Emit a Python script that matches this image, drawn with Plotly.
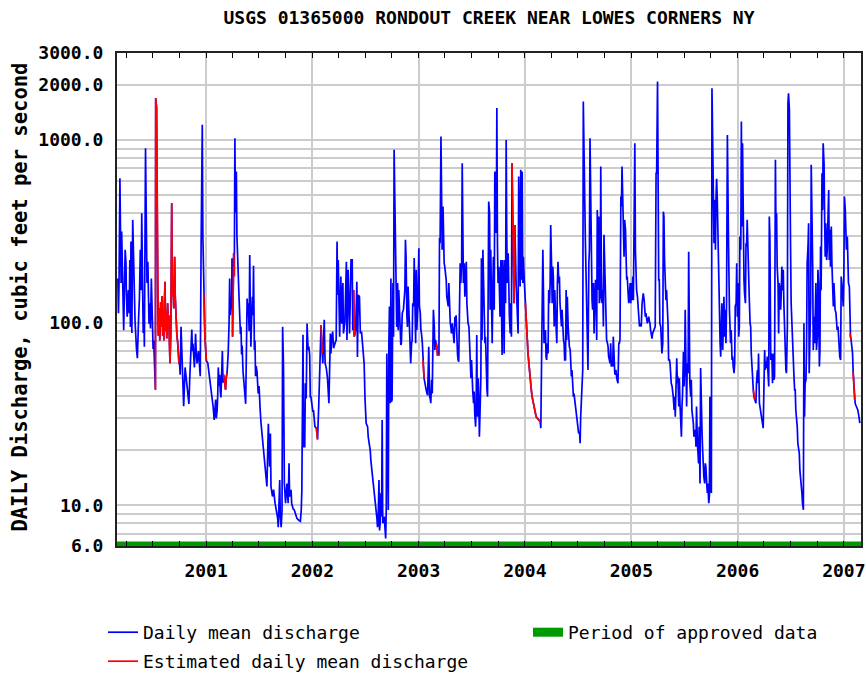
import pandas as pd
import plotly.graph_objects as go

# Day offsets are counted from this date; values are daily mean discharge (cfs)
START = pd.Timestamp("2000-01-01")

flow_2000 = [
    (63, 175), (65, 113), (67, 165), (70, 619), (72, 316), (74, 165), (76, 316), (80, 128), (83, 91), (88, 251),
    (91, 212), (92, 151), (95, 108), (99, 151), (102, 113), (104, 221), (106, 95), (108, 279), (111, 88), (114, 366),
    (118, 158), (120, 123), (122, 102), (127, 72), (130, 64), (134, 104), (137, 136), (140, 251), (143, 151), (145, 398),
    (147, 165), (150, 88), (152, 128), (154, 74), (158, 904), (161, 316), (163, 165), (166, 216), (168, 145), (170, 99),
    (172, 128), (175, 93), (178, 175), (182, 102), (184, 72), (186, 80), (189, 49), (192, 43), (193, 1700), (196, 1500),
    (200, 139), (202, 85), (205, 120), (207, 80), (210, 130), (212, 95), (215, 140), (217, 85), (219, 110), (221, 80),
    (223, 130), (225, 168), (227, 90), (229, 115), (231, 82), (234, 128), (236, 95), (238, 110), (240, 80), (242, 60),
    (245, 90), (248, 451), (250, 140), (253, 148), (255, 120), (258, 230), (260, 140), (262, 108), (264, 95), (266, 84),
    (268, 80), (271, 65), (273, 60), (275, 60), (277, 52), (280, 95), (285, 49), (287, 35), (289, 35), (294, 57),
    (298, 50), (303, 43), (307, 36), (310, 50), (312, 57), (317, 92), (319, 70), (321, 77), (326, 57), (330, 87),
    (332, 70), (335, 60), (340, 70), (344, 54), (346, 51), (349, 267), (353, 1213), (355, 300), (358, 145), (360, 100),
    (362, 84), (365, 70),
]

flow_2001 = [
    (367, 62), (372, 60), (376, 54), (381, 47), (385, 41), (390, 35), (394, 29.4), (396, 33), (399, 38), (401, 30),
    (404, 33), (406, 40), (408, 57), (411, 45), (413, 52), (415, 42), (417, 39), (420, 55), (422, 70), (424, 47),
    (426, 52), (429, 49), (431, 47), (433, 43), (435, 50), (438, 53), (440, 60), (442, 68), (445, 100), (447, 175),
    (449, 110), (452, 139), (454, 120), (455, 226), (457, 84), (458, 150), (461, 240), (463, 180), (465, 1025), (467, 400),
    (470, 673), (472, 300), (475, 199), (477, 170), (479, 142), (484, 87), (486, 95), (488, 67), (490, 75), (493, 54),
    (497, 43), (502, 36), (504, 60), (507, 136), (509, 110), (511, 128), (514, 90), (516, 235), (518, 120), (520, 74),
    (522, 100), (525, 139), (527, 110), (529, 205), (532, 71), (534, 80), (536, 51), (538, 58), (541, 54), (543, 45),
    (545, 41), (548, 45), (550, 36), (552, 33), (555, 28), (559, 24), (564, 20), (568, 17), (572, 15), (575, 12.7),
    (580, 28), (582, 21), (584, 16.3), (587, 24.8), (589, 12.7), (594, 11.2), (598, 12.2), (603, 10.3), (607, 9.45), (612, 8.5),
    (614, 7.6), (619, 13.8), (621, 8.7), (624, 7.6), (627, 9.45), (629, 95), (632, 57.6), (635, 13.2), (639, 10.3), (644, 13.2),
    (648, 10.3), (651, 17), (653, 11.2), (658, 12.2), (660, 10.3), (665, 9.6), (669, 9.45), (674, 8.9), (678, 8.5), (685, 8.3),
    (690, 8.2), (693, 9.45), (695, 12), (699, 86), (701, 21), (705, 21), (707, 46.7), (710, 38.5), (713, 99), (715, 80.5),
    (717, 71), (719, 74), (722, 66.7), (724, 39.4), (726, 39.4), (729, 36.3),
]

flow_2002 = [
    (731, 33.3), (733, 32.5), (735, 33.3), (738, 30.6), (740, 27), (745, 26.5), (747, 23), (749, 23), (753, 35), (756, 50),
    (761, 97), (763, 79), (765, 68), (767, 60), (772, 104), (775, 60), (779, 56.5), (783, 50), (788, 36.3), (790, 60),
    (793, 87.5), (795, 68), (797, 80.5), (801, 89.5), (804, 72.5), (809, 77.3), (813, 80.5), (816, 279), (818, 142), (820, 221),
    (825, 84), (829, 179), (832, 99), (836, 165), (838, 87.5), (843, 101), (848, 216), (850, 80.5), (854, 195), (859, 87.5),
    (864, 221), (868, 221), (870, 91), (873, 151), (875, 84), (880, 91), (884, 168), (886, 65), (889, 142), (893, 139),
    (896, 87.5), (900, 89.5), (905, 74), (909, 60), (912, 38.5), (916, 28.2), (921, 27), (923, 23.8), (928, 21), (930, 20.1),
    (932, 17.7), (937, 15), (941, 13.2), (944, 11.2), (948, 10.3), (950, 9.9), (953, 8.5), (955, 7.6), (957, 8), (960, 13.8),
    (962, 7.3), (964, 8), (967, 11.7), (969, 8.7), (971, 29.4), (973, 8), (978, 8.7), (980, 7.3), (983, 6.6), (985, 9.45),
    (987, 68), (989, 26.5), (992, 9.45), (994, 77.3), (996, 123), (999, 36.3), (1001, 175), (1003, 37), (1005, 38), (1008, 165),
    (1010, 84), (1012, 885), (1015, 351), (1017, 351), (1019, 172), (1021, 95), (1024, 165), (1026, 91), (1028, 151), (1031, 99),
    (1033, 89.5), (1035, 75.6), (1037, 77.3), (1040, 113), (1044, 118), (1049, 151), (1051, 285), (1053, 230), (1056, 108), (1058, 95),
    (1060, 158), (1063, 118), (1065, 108), (1067, 80.5), (1069, 60), (1072, 77.3), (1074, 80.5), (1076, 128), (1079, 123), (1081, 226),
    (1083, 145), (1086, 77.3), (1088, 195), (1090, 91.4), (1093, 118), (1095, 212),
]

flow_2003 = [
    (1097, 256), (1099, 123), (1102, 113), (1104, 91.4), (1106, 87.5), (1109, 77.3), (1111, 62.6), (1113, 57.6), (1115, 49.7), (1118, 46.7),
    (1120, 43.9), (1122, 42.9), (1125, 41), (1127, 40.2), (1129, 53), (1131, 74), (1134, 39.4), (1136, 38.5), (1138, 36.3), (1141, 48.7),
    (1143, 41), (1145, 72.5), (1147, 118), (1150, 95.4), (1152, 71), (1154, 80.5), (1157, 77.3), (1159, 74), (1161, 66.7), (1166, 66.7),
    (1168, 291), (1170, 273), (1173, 1046), (1175, 659), (1177, 251), (1180, 433), (1182, 251), (1184, 212), (1186, 203), (1189, 187),
    (1191, 172), (1193, 139), (1196, 128), (1198, 123), (1200, 165), (1202, 113), (1205, 99.4), (1207, 95.4), (1209, 87.5), (1212, 99.4),
    (1214, 91.4), (1216, 80.5), (1218, 77.3), (1221, 108), (1223, 95.4), (1225, 110), (1228, 71), (1230, 66.7), (1232, 62.6), (1234, 61.3),
    (1237, 131), (1239, 212), (1241, 165), (1244, 208), (1246, 748), (1248, 382), (1250, 165), (1253, 212), (1255, 139), (1257, 165),
    (1260, 216), (1262, 128), (1264, 108), (1266, 99.4), (1269, 95.4), (1271, 80.5), (1273, 64), (1276, 49.7), (1278, 62.6), (1280, 43.9),
    (1282, 42.9), (1285, 36.3), (1287, 42), (1289, 31.9), (1292, 27), (1294, 36.3), (1296, 85.8), (1298, 30.6), (1301, 49.7), (1303, 37.8),
    (1305, 23.8), (1308, 36.3), (1310, 49.7), (1312, 226), (1314, 80.5), (1317, 251), (1319, 158), (1321, 95.4), (1324, 77.3), (1326, 84),
    (1328, 49.7), (1331, 42.9), (1333, 39.4), (1335, 118), (1337, 461), (1340, 398), (1342, 118), (1344, 251), (1347, 128), (1349, 77.3),
    (1351, 145), (1353, 230), (1356, 118), (1358, 673), (1360, 415), (1363, 310), (1365, 1500), (1367, 273), (1369, 165), (1372, 203),
    (1374, 151), (1376, 108), (1379, 221), (1381, 87.5), (1383, 66.7), (1385, 221), (1388, 165), (1390, 68), (1392, 221), (1395, 128),
    (1397, 1003), (1399, 297), (1401, 165), (1404, 240), (1406, 133), (1408, 108), (1411, 87.5), (1413, 128), (1415, 84), (1417, 748),
    (1420, 359), (1422, 230), (1424, 128), (1427, 343), (1429, 172), (1431, 165), (1433, 139), (1436, 108), (1438, 87.5), (1440, 632),
    (1443, 262), (1445, 158), (1447, 688), (1449, 172), (1452, 673), (1454, 165), (1456, 230), (1459, 172),
]

flow_2004 = [
    (1461, 145), (1463, 128), (1466, 99.4), (1468, 87.5), (1470, 77.3), (1472, 68), (1475, 60), (1477, 54), (1479, 49.2), (1482, 45),
    (1484, 42), (1486, 39.4), (1488, 37.8), (1491, 36.3), (1493, 34), (1495, 32.6), (1497, 31.3), (1500, 30.6), (1504, 30), (1509, 29.4),
    (1514, 28.8), (1516, 26.5), (1518, 62.6), (1520, 62.6), (1523, 251), (1525, 151), (1527, 77.3), (1530, 84), (1532, 91.4), (1534, 65.3),
    (1536, 62.6), (1539, 77.3), (1541, 68), (1543, 151), (1546, 128), (1548, 165), (1550, 343), (1553, 203), (1555, 128), (1557, 203),
    (1559, 179), (1562, 95.4), (1564, 151), (1566, 118), (1568, 84), (1571, 77.3), (1573, 165), (1575, 216), (1578, 165), (1580, 179),
    (1582, 128), (1584, 118), (1587, 95.4), (1589, 118), (1591, 91.4), (1594, 80.5), (1596, 77.3), (1598, 62.6), (1601, 62.6), (1603, 151),
    (1605, 80.5), (1607, 139), (1610, 95.4), (1612, 77.3), (1614, 74), (1617, 71), (1619, 55.2), (1621, 50.8), (1623, 55.2), (1626, 46.7),
    (1628, 39.4), (1630, 41), (1633, 37.8), (1635, 34.8), (1637, 33.3), (1639, 30.6), (1642, 29.4), (1644, 27), (1646, 24.8), (1649, 25.4),
    (1651, 21.9), (1653, 30.6), (1655, 34.8), (1658, 46.7), (1660, 55.2), (1662, 1628), (1665, 471), (1667, 461), (1669, 285), (1672, 172),
    (1674, 95.4), (1676, 95.4), (1678, 55.2), (1681, 212), (1683, 251), (1685, 1025), (1688, 273), (1690, 212), (1692, 133), (1694, 118),
    (1697, 165), (1699, 87.5), (1701, 133), (1704, 172), (1706, 145), (1708, 80.5), (1710, 415), (1713, 151), (1715, 382), (1717, 128),
    (1720, 139), (1722, 718), (1724, 195), (1726, 128), (1729, 151), (1731, 95.4), (1733, 303), (1736, 179), (1738, 187), (1740, 118),
    (1742, 80.5), (1745, 77.3), (1747, 74), (1749, 65.3), (1752, 61.3), (1754, 60), (1756, 77.3), (1758, 57.6), (1761, 61.3), (1763, 57.6),
    (1765, 84), (1768, 55.2), (1770, 53), (1772, 52), (1774, 55.2), (1777, 49.7), (1779, 48.7), (1781, 46.7), (1784, 77.3), (1786, 77.3),
    (1788, 80.5), (1791, 491), (1793, 433), (1795, 718), (1797, 433), (1800, 297), (1802, 230), (1804, 366), (1807, 323), (1809, 230),
    (1811, 172), (1813, 179), (1816, 145), (1818, 128), (1820, 139), (1823, 165), (1825, 128),
]

flow_2005 = [
    (1827, 165), (1829, 133), (1832, 179), (1834, 133), (1836, 262), (1839, 962), (1841, 251), (1843, 151), (1845, 151), (1848, 139),
    (1850, 118), (1852, 108), (1855, 95.4), (1857, 99.4), (1859, 95.4), (1861, 95.4), (1864, 128), (1866, 139), (1868, 145), (1871, 133),
    (1873, 118), (1875, 108), (1877, 113), (1880, 99.4), (1882, 99.4), (1884, 104), (1887, 108), (1889, 102), (1891, 99.4), (1893, 91.4),
    (1896, 87.5), (1898, 82), (1900, 87.5), (1903, 89.5), (1905, 91.4), (1907, 93), (1909, 95.4), (1912, 659), (1914, 659), (1917, 2094),
    (1919, 273), (1921, 172), (1923, 172), (1925, 99.4), (1928, 95.4), (1930, 84), (1932, 68), (1935, 77.3), (1937, 406), (1939, 382),
    (1941, 221), (1944, 151), (1946, 133), (1948, 151), (1951, 128), (1953, 99.4), (1955, 62.6), (1958, 62.6), (1960, 60), (1962, 48.7),
    (1964, 46.7), (1967, 44.8), (1969, 42.9), (1971, 39.4), (1974, 33.3), (1976, 39.4), (1978, 30.6), (1980, 37.8), (1983, 64), (1985, 46.7),
    (1987, 50.8), (1990, 34.8), (1992, 49.7), (1994, 36.3), (1996, 30.6), (1999, 23.8), (2001, 34.8), (2003, 41), (2006, 69.5), (2008, 44.8),
    (2010, 55.2), (2012, 118), (2015, 55.2), (2017, 34.8), (2019, 60), (2022, 53), (2024, 245), (2026, 77.3), (2028, 46.7), (2031, 39.4),
    (2033, 48.7), (2035, 33.3), (2038, 30.6), (2040, 28.2), (2042, 23.8), (2044, 24.8), (2047, 25.9), (2049, 21), (2051, 34.8), (2054, 21.9),
    (2056, 19.3), (2058, 17), (2060, 27), (2063, 13.2), (2065, 56.5), (2067, 31.9), (2070, 24.8), (2072, 20.1), (2074, 16.3), (2076, 14.4),
    (2079, 13.2), (2081, 17), (2083, 16.3), (2086, 13.2), (2088, 11.7), (2090, 13.2), (2093, 10.3), (2095, 11.2), (2097, 39.4), (2099, 12.2),
    (2102, 11.7), (2104, 1925), (2106, 1160), (2109, 491), (2111, 273), (2113, 471), (2116, 251), (2118, 491), (2120, 615), (2122, 491),
    (2125, 251), (2127, 165), (2129, 113), (2132, 77.3), (2134, 65.3), (2136, 108), (2138, 128), (2141, 71), (2143, 87.5), (2145, 139),
    (2148, 84), (2150, 118), (2152, 77.3), (2154, 123), (2157, 1067), (2159, 262), (2161, 262), (2164, 118), (2166, 99.4), (2168, 77.3),
    (2170, 91.4), (2173, 62.6), (2175, 65.3), (2177, 57.6), (2180, 53), (2182, 60), (2184, 123), (2187, 128), (2189, 212), (2191, 108),
]

flow_2006 = [
    (2193, 165), (2196, 84), (2198, 95.4), (2200, 297), (2203, 251), (2205, 1264), (2207, 337), (2209, 962), (2212, 179), (2214, 172),
    (2216, 145), (2219, 128), (2221, 273), (2223, 262), (2225, 366), (2228, 195), (2230, 151), (2232, 139), (2235, 99.4), (2237, 95.4),
    (2239, 68), (2241, 55.2), (2244, 46.7), (2246, 42.9), (2248, 39.4), (2251, 37.8), (2253, 36.3), (2255, 36.3), (2257, 46.7), (2260, 55.2),
    (2262, 46.7), (2264, 68), (2267, 36.3), (2269, 34.8), (2271, 33.3), (2273, 31.9), (2276, 29.4), (2278, 28.2), (2280, 26.5), (2283, 48.7),
    (2285, 71), (2287, 55.2), (2289, 61.3), (2292, 56.5), (2294, 65.3), (2296, 55.2), (2299, 44.8), (2301, 382), (2303, 297), (2306, 62.6),
    (2308, 68), (2310, 65.3), (2312, 46.7), (2315, 68), (2317, 48.7), (2319, 50.8), (2322, 780), (2324, 310), (2326, 398), (2328, 203),
    (2331, 165), (2333, 87.5), (2335, 165), (2338, 151), (2340, 118), (2342, 145), (2344, 203), (2347, 151), (2349, 195), (2351, 128),
    (2354, 77.3), (2356, 80.5), (2358, 55.2), (2360, 53), (2363, 95.4), (2365, 1594), (2367, 1806), (2370, 1465), (2372, 262), (2374, 262),
    (2376, 128), (2379, 87.5), (2381, 80.5), (2383, 60), (2386, 49.7), (2388, 42.9), (2390, 42.9), (2392, 33.3), (2395, 30.6), (2397, 27),
    (2399, 21.9), (2402, 20.1), (2404, 19.3), (2406, 15.6), (2408, 14.4), (2411, 13.8), (2413, 11.7), (2415, 10.3), (2418, 9.45), (2420, 99.4),
    (2422, 30.6), (2424, 46.7), (2427, 48.7), (2429, 74), (2431, 212), (2434, 262), (2436, 351), (2438, 53), (2440, 77.3), (2443, 128),
    (2445, 733), (2447, 522), (2450, 203), (2452, 71), (2454, 108), (2457, 77.3), (2459, 118), (2461, 165), (2463, 71), (2466, 84),
    (2468, 195), (2470, 165), (2473, 57.6), (2475, 71), (2477, 262), (2479, 151), (2482, 659), (2484, 415), (2486, 962), (2489, 748),
    (2491, 382), (2493, 230), (2495, 351), (2498, 221), (2500, 251), (2502, 451), (2505, 534), (2507, 221), (2509, 323), (2511, 203),
    (2514, 337), (2516, 212), (2518, 165), (2521, 123), (2523, 165), (2525, 139), (2527, 118), (2530, 113), (2532, 99.4), (2534, 91.4),
    (2537, 95.4), (2539, 80.5), (2541, 74), (2543, 65.3), (2546, 62.6), (2548, 179), (2550, 165), (2553, 139), (2555, 123),
]

flow_2007 = [
    (2557, 172), (2559, 491), (2562, 415), (2564, 337), (2566, 251), (2569, 297), (2571, 230), (2573, 165), (2576, 158), (2578, 87.5),
    (2580, 84), (2582, 80.5), (2585, 71), (2587, 68), (2589, 54), (2592, 46.7), (2594, 37.8), (2596, 36.3), (2598, 35.5), (2601, 34.8),
    (2603, 34), (2605, 33.3), (2608, 31.3), (2610, 29.4), (2612, 28.2),
]

# Day-offset ranges flagged as estimated (drawn in red)
estimated_periods = [
    (192, 273), (357, 367), (426, 438), (456, 463), (745, 749), (761, 765), (872, 881),
    (1111, 1116), (1157, 1166), (1417, 1427), (1463, 1514), (2246, 2251), (2578, 2582), (2589, 2594),
]

approved_period = ["2000-03-01", "2007-03-01"]
x_range = ["2000-03-01", "2007-03-01"]

y_grid_values = [6, 7, 8, 9, 10, 20, 30, 40, 50, 60, 70, 80, 90, 100, 200, 300, 400, 500,
                 600, 700, 800, 900, 1000, 2000, 3000]
y_labels = {6: "6.0", 10: "10.0", 100: "100.0", 1000: "1000.0", 2000: "2000.0", 3000: "3000.0"}
year_labels = ["2001", "2002", "2003", "2004", "2005", "2006", "2007"]

TITLE = "USGS 01365000 RONDOUT CREEK NEAR LOWES CORNERS NY"
Y_TITLE = "DAILY Discharge, cubic feet per second"

# ---------------------------------------------------------------------------
records = flow_2000 + flow_2001 + flow_2002 + flow_2003 + flow_2004 + flow_2005 + flow_2006 + flow_2007
dates = [START + pd.Timedelta(days=d) for d, _ in records]
cfs = [q for _, q in records]
est_cfs = [q if any(a <= d <= b for a, b in estimated_periods) else None for d, q in records]

quarter_ticks = list(pd.date_range("2000-04-01", "2007-01-01", freq="QS"))
year_ticks = [pd.Timestamp(f"{y}-01-01") for y in year_labels]
quarter_text = [str(t.year) if t.month == 1 else "" for t in quarter_ticks]

FONT = "DejaVu Sans Mono"
legend_font = dict(family=FONT, size=18, color="black")

fig = go.Figure()
fig.add_trace(go.Scatter(x=dates, y=cfs, mode="lines", name="Daily mean discharge",
                         line=dict(color="#0000ff", width=1.7), legend="legend"))
fig.add_trace(go.Scatter(x=dates, y=est_cfs, mode="lines", name="Estimated daily mean discharge",
                         line=dict(color="#ff0000", width=1.7), legend="legend3"))
fig.add_trace(go.Scatter(x=approved_period, y=[6, 6], mode="lines", name="Period of approved data",
                         line=dict(color="#009900", width=9), legend="legend2"))

fig.update_layout(
    width=866, height=673,
    margin=dict(l=117, r=5, t=53, b=127, autoexpand=False),
    paper_bgcolor="white", plot_bgcolor="white",
    font=dict(family=FONT, size=18, color="black"),
    title=dict(text=TITLE, x=0.5, xref="paper", xanchor="center",
               y=1 - 18 / 673, yref="container", yanchor="middle",
               font=dict(family=FONT, size=18, color="black", weight="bold")),
    showlegend=True,
    legend=dict(x=103 / 866, y=1 - 614 / 673, xref="container", yref="container",
                xanchor="left", yanchor="top", bgcolor="rgba(0,0,0,0)", font=legend_font),
    legend2=dict(x=528 / 866, y=1 - 614 / 673, xref="container", yref="container",
                 xanchor="left", yanchor="top", bgcolor="rgba(0,0,0,0)", font=legend_font),
    legend3=dict(x=103 / 866, y=1 - 643 / 673, xref="container", yref="container",
                 xanchor="left", yanchor="top", bgcolor="rgba(0,0,0,0)", font=legend_font),
    xaxis=dict(
        type="date", range=x_range,
        tickmode="array", tickvals=quarter_ticks, ticktext=quarter_text,
        ticks="inside", ticklen=5, tickwidth=1, tickcolor="black",
        showgrid=False, mirror="allticks",
        showline=True, linecolor="#222222", linewidth=2,
        ticklabelstandoff=7,
        tickfont=dict(family=FONT, size=18, color="black", weight="bold"),
        minor=dict(tickmode="array", tickvals=year_ticks, showgrid=True,
                   gridcolor="#cccccc", gridwidth=2, ticks=""),
        zeroline=False, automargin=False,
    ),
    yaxis=dict(
        type="log", range=[0.77815, 3.47712],
        tickmode="array", tickvals=y_grid_values,
        ticktext=[y_labels.get(v, "") for v in y_grid_values],
        ticks="", showgrid=True, gridcolor="#cccccc", gridwidth=1.5,
        showline=True, linecolor="#222222", linewidth=2, mirror=True,
        ticklabelstandoff=8,
        tickfont=dict(family=FONT, size=18, color="black", weight="bold"),
        zeroline=False, automargin=False,
    ),
    annotations=[dict(text=Y_TITLE, textangle=-90, xref="paper", yref="paper",
                      x=-0.131, y=0.505, xanchor="center", yanchor="middle", showarrow=False,
                      font=dict(family=FONT, size=20.5, color="black", weight="bold"))],
)

# The browser's default 8px page margin would shift the figure; remove it.
fig.write_html("out.html", config={"displayModeBar": False},
               post_script="document.body.style.margin='0px';")
